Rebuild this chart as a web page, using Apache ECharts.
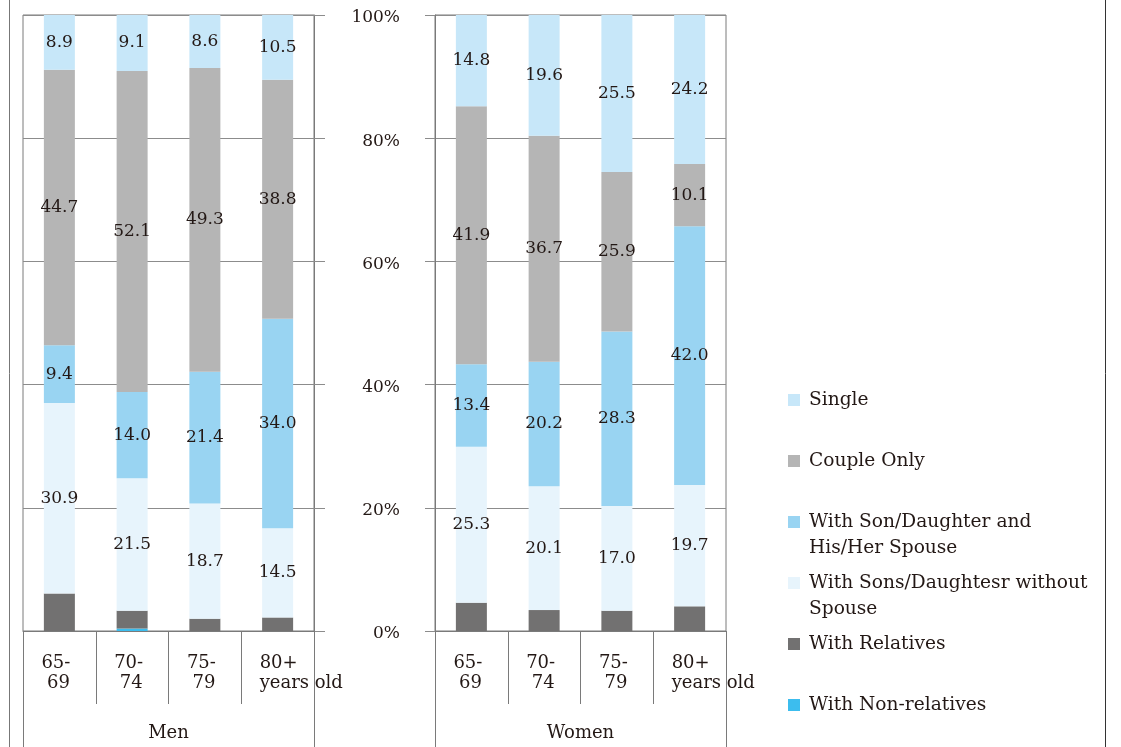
<!DOCTYPE html>
<html>
<head>
<meta charset="utf-8">
<script src="https://cdn.jsdelivr.net/npm/echarts@6/dist/echarts.min.js"></script>
<style>
  html, body { margin: 0; padding: 0; background: #ffffff; }
  #chart { width: 1121px; height: 747px; }
</style>
</head>
<body>
<div id="chart"></div>
<script>
// Age groups and panel titles
const ageGroups = ['65-\n 69', '70-\n 74', '75-\n 79', '80+\nyears old'];
const panelNames = ['Men', 'Women'];

// Household types, listed from the bottom of each stack upward
const householdTypes = [
  'With Non-relatives',
  'With Relatives',
  'With Sons/Daughtesr without\nSpouse',
  'With Son/Daughter and\nHis/Her Spouse',
  'Couple Only',
  'Single'
];

// Share of each household type (%), Men
const menNonRelatives = [0, 0.4, 0, 0];
const menRelatives    = [6.1, 2.9, 2.0, 2.2];
const menSonsNoSpouse = [30.9, 21.5, 18.7, 14.5];
const menSonSpouse    = [9.4, 14.0, 21.4, 34.0];
const menCouple       = [44.7, 52.1, 49.3, 38.8];
const menSingle       = [8.9, 9.1, 8.6, 10.5];

// Share of each household type (%), Women
const womenNonRelatives = [0, 0, 0, 0];
const womenRelatives    = [4.6, 3.4, 3.3, 4.0];
const womenSonsNoSpouse = [25.3, 20.1, 17.0, 19.7];
const womenSonSpouse    = [13.4, 20.2, 28.3, 42.0];
const womenCouple       = [41.9, 36.7, 25.9, 10.1];
const womenSingle       = [14.8, 19.6, 25.5, 24.2];

// Value axis ticks (percent)
const yMin = 0, yMax = 100, yStep = 20;

const menData = [menNonRelatives, menRelatives, menSonsNoSpouse, menSonSpouse, menCouple, menSingle];
const womenData = [womenNonRelatives, womenRelatives, womenSonsNoSpouse, womenSonSpouse, womenCouple, womenSingle];

const colors = ['#3cbdee', '#727171', '#e7f4fc', '#99d4f2', '#b5b5b5', '#c7e7f9'];
const labelled = [false, false, true, true, true, true];

const FONT = 'DejaVu Serif';
const INK = '#231815';
const LINE = '#8c8c8c';
const FRAME = '#7a7a7a';

const chart = echarts.init(document.getElementById('chart'), null, { renderer: 'canvas' });

const grids = [
  { left: 23, width: 291, top: 15, bottom: 116, show: true, borderColor: FRAME, borderWidth: 1 },
  { left: 435, width: 291, top: 15, bottom: 116, show: true, borderColor: FRAME, borderWidth: 1 }
];

function ageAxis(gridIndex) {
  return {
    gridIndex, type: 'category', data: ageGroups, position: 'bottom',
    axisLine: { show: true, lineStyle: { color: FRAME } },
    axisTick: { show: true, length: 73, interval: 0, lineStyle: { color: FRAME } },
    axisLabel: {
      interval: 0, align: 'left', padding: [0, 0, 0, -18], margin: 22,
      fontFamily: FONT, fontSize: 18, lineHeight: 20, color: INK
    }
  };
}
function panelAxis(gridIndex) {
  return {
    gridIndex, type: 'category', data: [panelNames[gridIndex]], position: 'bottom',
    axisLine: { show: false },
    axisTick: { show: true, length: 116, lineStyle: { color: FRAME } },
    axisLabel: { margin: 92, fontFamily: FONT, fontSize: 18, lineHeight: 20, color: INK }
  };
}

const yAxes = [
  {
    gridIndex: 0, type: 'value', position: 'right', min: yMin, max: yMax, interval: yStep,
    axisLine: { show: true, lineStyle: { color: FRAME } },
    axisTick: { show: true, length: 11, lineStyle: { color: LINE } },
    axisLabel: { show: false },
    splitLine: { show: true, lineStyle: { color: LINE } }
  },
  {
    gridIndex: 1, type: 'value', position: 'left', min: yMin, max: yMax, interval: yStep,
    axisLine: { show: true, lineStyle: { color: FRAME } },
    axisTick: { show: true, length: 10, lineStyle: { color: LINE } },
    axisLabel: {
      margin: 35,
      formatter: (v) => '{p|' + v + '%}',
      rich: { p: { padding: [6, 0, 0, 0], fontFamily: FONT, fontSize: 17, color: INK } }
    },
    splitLine: { show: true, lineStyle: { color: LINE } }
  }
];

const series = [];
[menData, womenData].forEach((panel, p) => {
  panel.forEach((values, k) => {
    series.push({
      name: householdTypes[k],
      type: 'bar',
      stack: panelNames[p],
      xAxisIndex: p * 2,
      yAxisIndex: p,
      barWidth: 31,
      data: values,
      itemStyle: { color: colors[k] },
      label: {
        show: labelled[k], position: 'inside',
        formatter: (d) => d.value.toFixed(1),
        fontFamily: FONT, fontSize: 17, color: INK
      },
      emphasis: { disabled: true }
    });
  });
});

// Legend: one block per household type, top to bottom.
// Two-line entries get a blank leading line so the swatch sits beside the first line.
const legendOrder = [5, 4, 3, 2, 1, 0];
const legendCenters = [400, 461, 522, 583, 644, 705];
const legends = legendOrder.map((k, i) => {
  const twoLines = householdTypes[k].indexOf('\n') >= 0;
  return {
    data: [{ name: householdTypes[k], icon: 'rect' }],
    left: 788,
    top: legendCenters[i] - (twoLines ? 39 : 13),
    padding: 0,
    itemWidth: 12, itemHeight: 12,
    selectedMode: false,
    formatter: (name) => {
      const lines = name.split('\n').map((l) => '{t|' + l + '}');
      return (twoLines ? '\n' : '') + lines.join('\n');
    },
    textStyle: {
      fontFamily: FONT, fontSize: 18.6, color: INK, lineHeight: 26,
      rich: { t: { fontFamily: FONT, fontSize: 18.6, color: INK, lineHeight: 26, padding: [0, 0, 0, 4] } }
    }
  };
});

chart.setOption({
  animation: false,
  backgroundColor: '#ffffff',
  textStyle: { fontFamily: FONT },
  grid: grids,
  xAxis: [ageAxis(0), panelAxis(0), ageAxis(1), panelAxis(1)],
  yAxis: yAxes,
  legend: legends,
  series,
  graphic: [
    { type: 'line', shape: { x1: 9.5, y1: 0, x2: 9.5, y2: 747 }, style: { stroke: '#777777', lineWidth: 1 } },
    { type: 'line', shape: { x1: 1105.5, y1: 0, x2: 1105.5, y2: 747 }, style: { stroke: '#333333', lineWidth: 1 } }
  ]
});
</script>
</body>
</html>
